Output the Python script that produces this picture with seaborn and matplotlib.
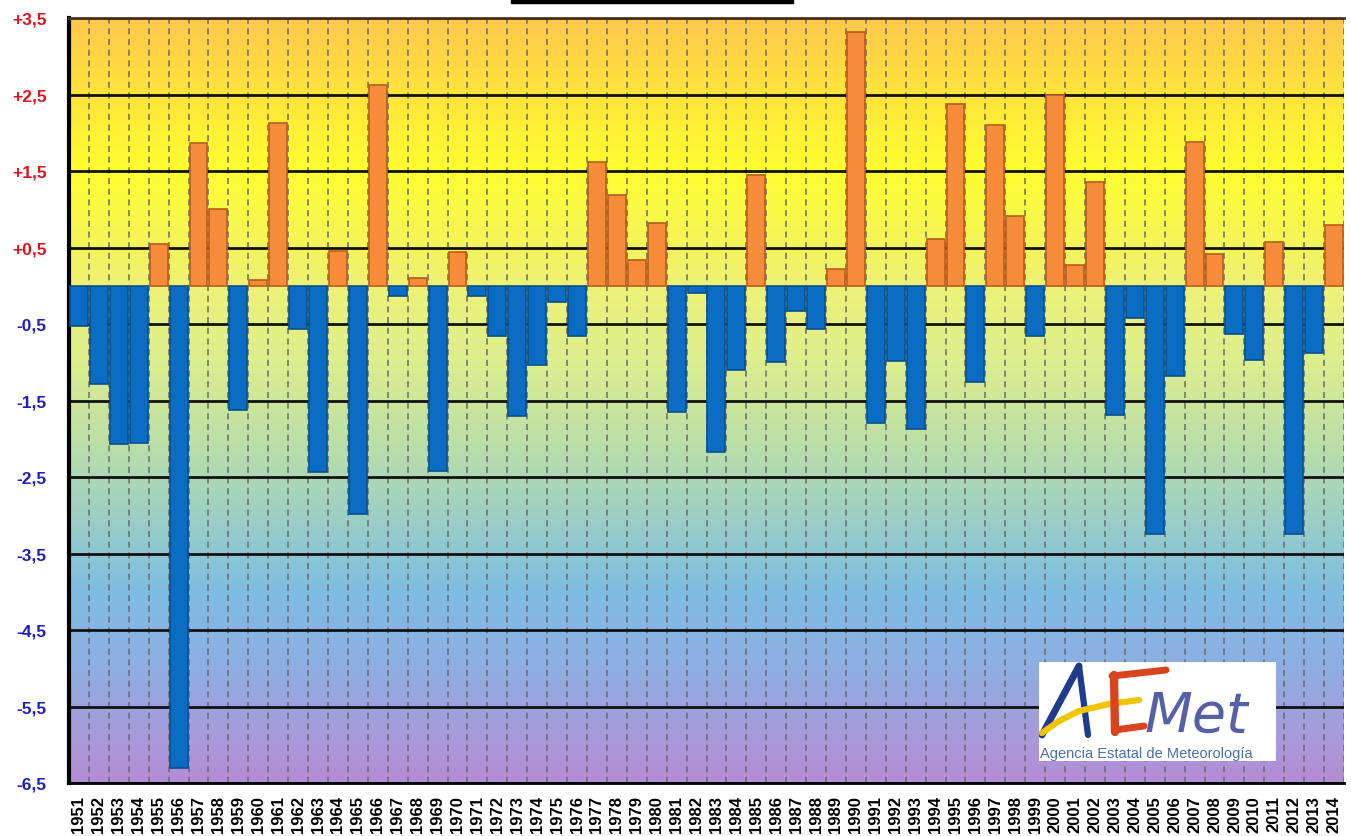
import matplotlib
matplotlib.use("Agg")
import matplotlib.pyplot as plt
import numpy as np
import pandas as pd
import seaborn as sns
from matplotlib.colors import LinearSegmentedColormap
from matplotlib.patches import Rectangle

# anomalies per year
years = list(range(1951, 2015))
values = [
    -0.52, -1.29, -2.07, -2.05, 0.55, -6.31, 1.86, 1.00, -1.63, 0.07,
    2.13, -0.57, -2.44, 0.46, -2.98, 2.63, -0.13, 0.10, -2.42, 0.44,
    -0.13, -0.66, -1.70, -1.04, -0.21, -0.66, 1.62, 1.19, 0.34, 0.82,
    -1.65, -0.10, -2.17, -1.10, 1.45, -1.00, -0.33, -0.56, 0.22, 3.32,
    -1.80, -0.98, -1.87, 0.61, 2.38, -1.26, 2.10, 0.91, -0.66, 2.50,
    0.27, 1.36, -1.69, -0.42, -3.25, -1.18, 1.88, 0.42, -0.63, -0.97,
    0.57, -3.24, -0.88, 0.80,
]
ytick_vals = [3.5, 2.5, 1.5, 0.5, -0.5, -1.5, -2.5, -3.5, -4.5, -5.5, -6.5]
ytick_labels = ["+3,5", "+2,5", "+1,5", "+0,5", "-0,5", "-1,5", "-2,5",
                "-3,5", "-4,5", "-5,5", "-6,5"]

df = pd.DataFrame({"year": [str(y) for y in years], "value": values})
df["sign"] = np.where(df["value"] >= 0, "pos", "neg")

sns.set_style("white")
plt.rcParams["font.family"] = ["Liberation Sans", "DejaVu Sans"]

fig = plt.figure(figsize=(13.51, 8.37), dpi=100)
ax = fig.add_axes([69 / 1351, 53 / 837, 1275 / 1351, 765 / 837])

# background gradient
bg = LinearSegmentedColormap.from_list("bg", [
    (0.00, "#b48cd4"), (0.05, "#aa98da"), (0.15, "#8eaee2"),
    (0.25, "#7ebde2"), (0.35, "#9dd0c4"), (0.45, "#bde0a6"),
    (0.55, "#dcee8e"), (0.65, "#eef276"), (0.70, "#f4f45c"),
    (0.80, "#ffff30"), (0.90, "#ffe43a"), (1.00, "#ffc94c")])
grad = np.linspace(0, 1, 256).reshape(-1, 1)
ax.imshow(grad, extent=(-0.5, 63.5, -6.5, 3.5), origin="lower",
          aspect="auto", cmap=bg, zorder=0)

sns.barplot(data=df, x="year", y="value", hue="sign", order=df["year"],
            palette={"pos": "#f68b3a", "neg": "#0a6cc2"}, dodge=False,
            width=0.9, saturation=1, legend=False, ax=ax, zorder=3)
for p in ax.patches:
    if p.get_height() >= 0:
        p.set_edgecolor("#b85e1c")
    else:
        p.set_edgecolor("#08508f")
    p.set_linewidth(1.2)

ax.set_xlim(-0.5, 63.5)
ax.set_ylim(-6.5, 3.5)

# horizontal solid lines and vertical dashed separators
ax.set_yticks(ytick_vals)
ax.set_yticklabels(ytick_labels)
ax.set_xticks(np.arange(-0.5, 64, 1), minor=True)
ax.grid(True, which="major", axis="y", color="#111111", lw=2, zorder=1)
ax.grid(True, which="minor", axis="x", color="#6a6a6a", lw=1.1,
        linestyle=(0, (4, 3)), zorder=1)
ax.set_axisbelow(True)

for lab in ax.get_yticklabels():
    txt = lab.get_text()
    lab.set_color("#e0141c" if txt.startswith("+") else "#1e1ec4")
    lab.set_fontweight("bold")
    lab.set_fontsize(12.5)
ax.tick_params(axis="y", length=0, pad=16)
ax.tick_params(axis="x", which="major", length=0, pad=9, labelsize=12,
               labelrotation=90)
ax.tick_params(axis="x", which="minor", length=0)
for lab in ax.get_xticklabels():
    lab.set_fontweight("bold")
    lab.set_color("black")

ax.set_xlabel("")
ax.set_ylabel("")
ax.spines["left"].set_linewidth(3)
ax.spines["left"].set_color("black")
ax.spines["bottom"].set_linewidth(2)
ax.spines["bottom"].set_color("black")
ax.spines["top"].set_linewidth(2)
ax.spines["top"].set_color("#4a3418")
ax.spines["right"].set_visible(False)

# cropped title bar at the top
fig.patches.append(Rectangle((511 / 1351, 833 / 837), 282 / 1351, 4 / 837,
                             transform=fig.transFigure, color="black"))

# AEMET logo box
lg = fig.add_axes([1039 / 1351, 75 / 837, 237 / 1351, 99 / 837])
lg.set_xlim(0, 237)
lg.set_ylim(0, 99)
lg.set_facecolor("white")
for s in lg.spines.values():
    s.set_visible(False)
lg.set_xticks([])
lg.set_yticks([])
lg.plot([3, 40], [26, 95], color="#1f3c8c", lw=5, solid_capstyle="round")
lg.plot([40, 49], [95, 26], color="#1f3c8c", lw=4.5, solid_capstyle="round")
lg.plot([3, 20, 40, 70, 100], [28, 40, 50, 57, 61], color="#f2c500", lw=4.5,
        solid_capstyle="round")
lg.plot([76, 75], [29, 86], color="#d9441e", lw=6, solid_capstyle="round")
lg.plot([73, 127], [85, 91], color="#d9441e", lw=5, solid_capstyle="round")
lg.plot([76, 105], [31, 35], color="#d9441e", lw=5, solid_capstyle="round")
lg.text(106, 30, "Met", color="#5560a8", fontsize=40, fontstyle="italic",
        family="DejaVu Sans", va="baseline")
lg.text(1, 4, "Agencia Estatal de Meteorología", color="#4a6db0",
        fontsize=10.5, va="baseline")

fig.savefig("out.png", dpi=100)
